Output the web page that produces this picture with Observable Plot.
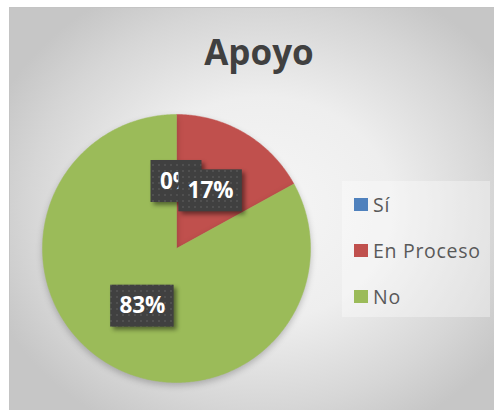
<!DOCTYPE html>
<html>
<head>
<meta charset="utf-8">
<script src="https://cdn.jsdelivr.net/npm/d3@7"></script>
<script src="https://cdn.jsdelivr.net/npm/@observablehq/plot@0.6"></script>
<style>
  html, body { margin: 0; padding: 0; background: #ffffff; }
  #wrap { position: relative; width: 494px; height: 410px; overflow: hidden; background: #fff; font-family: "Open Sans", sans-serif; }
  #frame { position: absolute; left: 9px; top: 7px; width: 485px; height: 403px; box-sizing: border-box;
    border-top: 1px solid #c4c4c4; border-left: 1px solid #c4c4c4;
    background: radial-gradient(ellipse 60% 62% at 52% 50%, #f6f6f6 0%, #eeeeee 45%, #d6d6d6 80%, #c6c6c6 100%); }
  #chart { position: absolute; left: 0; top: 0; }
  #chart g[aria-label="line"] { filter: drop-shadow(0px 3px 3px rgba(0,0,0,0.22)); }
  #chart g[aria-label="rect"] { filter: drop-shadow(3px 3px 2px rgba(0,0,0,0.45)); }
  #title { position: absolute; left: 0; width: 518px; top: 27px; text-align: center; font-weight: 700; font-size: 35px; color: #404040; line-height: 50px; }
  #legend { position: absolute; left: 342px; top: 181px; width: 148px; height: 136px; background: rgba(255,255,255,0.35); }
  .item { position: absolute; left: 0; height: 20px; }
  .sw { position: absolute; left: 12px; width: 14px; height: 13px; }
  .lab { position: absolute; left: 31px; top: -6px; font-size: 19.5px; color: #595959; white-space: nowrap; line-height: 26px; letter-spacing: 0.7px; }
</style>
</head>
<body>
<svg width="0" height="0" style="position:absolute">
  <defs>
    <pattern id="dots" width="6" height="6" patternUnits="userSpaceOnUse">
      <rect width="6" height="6" fill="#404040"></rect>
      <rect x="2" y="2" width="2" height="2" fill="#505050"></rect>
    </pattern>
  </defs>
</svg>
<div id="wrap">
  <div id="frame"></div>
  <div id="title">Apoyo</div>
  <div id="chart"></div>
  <div id="legend"></div>
</div>
<script>
// ---- data ----
const categories = ["Sí", "En Proceso", "No"];
const values = [0, 17, 83];
const labels = ["0%", "17%", "83%"];
const colors = ["#4f81bd", "#c0504d", "#9bbb59"];

// ---- layout ----
const W = 494, H = 410;
const cx = 176, cy = 248, R = 134;

const pie = d3.pie().sort(null).value(d => d.value).startAngle(0).endAngle(2 * Math.PI);
const arcs = pie(categories.map((c, i) => ({cat: c, value: values[i], label: labels[i], color: colors[i]})));

// polygon outline for each slice (geometry sampling of the arc)
function slicePoints(a) {
  const pts = [{x: cx, y: cy}];
  const n = Math.max(2, Math.ceil((a.endAngle - a.startAngle) / 0.01));
  for (let k = 0; k <= n; k++) {
    const t = a.startAngle + (a.endAngle - a.startAngle) * k / n;
    pts.push({x: cx + R * Math.sin(t), y: cy - R * Math.cos(t)});
  }
  pts.push({x: cx, y: cy});
  return pts;
}

const marks = [];
// slices
for (const a of arcs) {
  if (a.data.value <= 0) continue;
  marks.push(Plot.line(slicePoints(a), {x: "x", y: "y", fill: a.data.color, stroke: a.data.color, strokeWidth: 0.5}));
}
// data labels (box + text), in order so later boxes cover earlier ones
for (const a of arcs) {
  const mid = (a.startAngle + a.endAngle) / 2;
  const lx = cx + (R / 2) * Math.sin(mid);
  const ly = cy - (R / 2) * Math.cos(mid);
  const w = 26 + 12.5 * a.data.label.length;
  const d = {x: lx, y: ly, x1: lx - w / 2, x2: lx + w / 2, y1: ly - 21, y2: ly + 21, label: a.data.label};
  marks.push(Plot.rect([d], {x1: "x1", x2: "x2", y1: "y1", y2: "y2", fill: "url(#dots)"}));
  marks.push(Plot.text([d], {x: "x", y: "y", text: "label", fill: "white", fontSize: 22.5, fontWeight: "bold", fontFamily: "Open Sans", dy: 0}));
}

const chart = Plot.plot({
  width: W, height: H,
  margin: 0,
  x: {domain: [0, W], range: [0, W], axis: null},
  y: {domain: [0, H], range: [0, H], axis: null},
  style: {background: "transparent"},
  marks
});
document.getElementById("chart").appendChild(chart);

// legend
const legend = document.getElementById("legend");
const rowTops = [17, 63, 109];
categories.forEach((c, i) => {
  const it = document.createElement("div");
  it.className = "item";
  it.style.top = rowTops[i] + "px";
  it.innerHTML = `<div class="sw" style="background:${colors[i]}"></div><div class="lab">${c}</div>`;
  legend.appendChild(it);
});
</script>
</body>
</html>
